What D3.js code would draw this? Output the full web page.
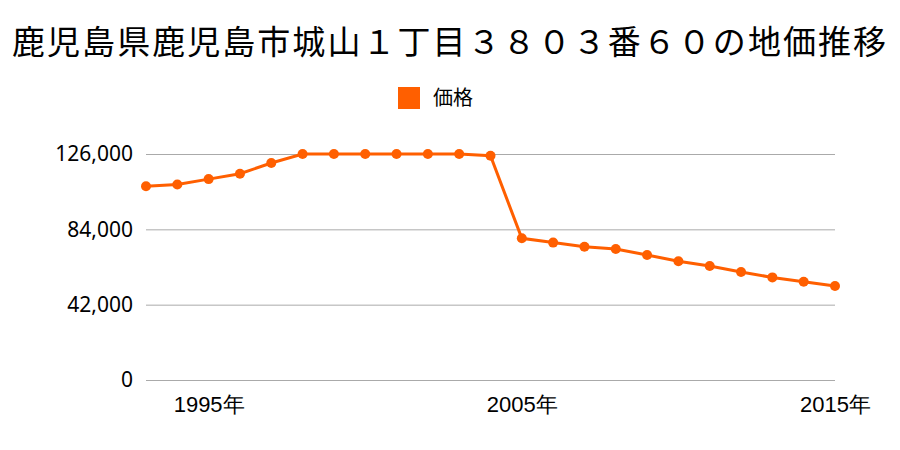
<!DOCTYPE html>
<html><head><meta charset="utf-8">
<script src="https://cdn.jsdelivr.net/npm/d3@7"></script>
<style>body{margin:0;background:#fff;}svg{display:block;font-family:"Noto Sans CJK JP","Noto Sans",sans-serif;}</style>
</head><body>
<svg id="c" width="900" height="450"></svg>
<script>
const title = "鹿児島県鹿児島市城山１丁目３８０３番６０の地価推移";
const seriesName = "価格";
const years = [1993,1994,1995,1996,1997,1998,1999,2000,2001,2002,2003,2004,2005,2006,2007,2008,2009,2010,2011,2012,2013,2014,2015];
const prices = [108000,109000,112000,115000,121000,126000,126000,126000,126000,126000,126000,125000,79000,76600,74300,73000,69700,66200,63600,60200,57200,54800,52400];
const yTicks = [0,42000,84000,126000];
const xTickYears = [1995,2005,2015];

const svg = d3.select("#c");
const color = "#ff5f00";
const x = d3.scaleLinear().domain([1993,2015]).range([146,835]);
const y = d3.scaleLinear().domain([0,126000]).range([380,154]);

svg.append("text").attr("x",12).attr("y",54)
  .attr("font-size",33).attr("fill","#000")
  .attr("textLength",874).attr("lengthAdjust","spacing").text(title);

svg.append("rect").attr("x",398).attr("y",87).attr("width",22).attr("height",22).attr("fill",color);
svg.append("text").attr("x",433).attr("y",105).attr("font-size",20).attr("fill","#000").text(seriesName);

const yAxis = d3.axisLeft(y).tickValues(yTicks).tickSize(-(835-146)).tickPadding(12)
  .tickFormat(d3.format(","));
const gy = svg.append("g").attr("transform","translate(146,0)").call(yAxis);
gy.select(".domain").remove();
gy.selectAll(".tick line").attr("stroke","#aaa").attr("stroke-width",1);
gy.selectAll(".tick text").attr("font-size",21).attr("fill","#000")
  .attr("font-family","'Noto Sans','DejaVu Sans',sans-serif").attr("x",-13);

const xAxis = d3.axisBottom(x).tickValues(xTickYears).tickSize(0).tickPadding(16)
  .tickFormat(d => d + "年");
const gx = svg.append("g").attr("transform","translate(0,380)").call(xAxis);
gx.select(".domain").remove();
gx.selectAll(".tick text").attr("font-size",22).attr("fill","#000");

const data = years.map((yr,i)=>({yr, v:prices[i]}));
svg.append("path").datum(data)
  .attr("fill","none").attr("stroke",color).attr("stroke-width",3)
  .attr("d", d3.line().x(d=>x(d.yr)).y(d=>y(d.v)));
svg.selectAll("circle.pt").data(data).enter().append("circle")
  .attr("class","pt").attr("cx",d=>x(d.yr)).attr("cy",d=>y(d.v)).attr("r",5).attr("fill",color);
</script>
</body></html>
